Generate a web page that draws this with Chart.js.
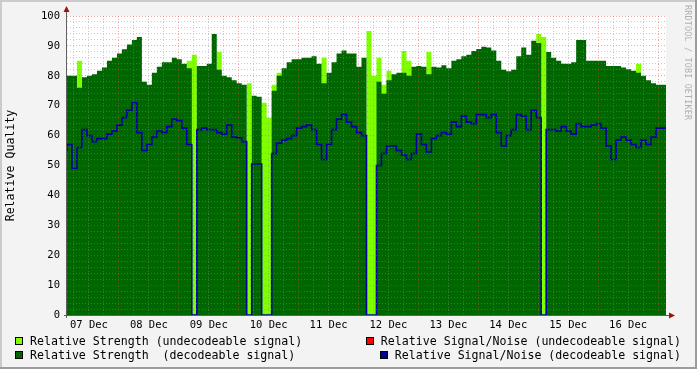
<!DOCTYPE html>
<html>
<head>
<meta charset="utf-8">
<script src="https://cdn.jsdelivr.net/npm/chart.js@4.4.1/dist/chart.umd.min.js"></script>
<style>
  html, body { margin: 0; padding: 0; background: #f3f3f3; }
  #wrap { position: relative; width: 697px; height: 369px; overflow: hidden; }
  #chart { position: absolute; left: 0; top: 0; }
  .item { position: absolute; display: flex; align-items: center; font: 11.6px "DejaVu Sans Mono", monospace; color: #000; white-space: pre; line-height: 14px; }
  .sw { display: inline-block; box-sizing: border-box; width: 8px; height: 8px; border: 1px solid #000; margin-right: 7px; }
  #credit { position: absolute; left: 683px; top: 5px; writing-mode: vertical-rl; font: 8.4px "DejaVu Sans Mono", monospace; color: #b0b0b0; letter-spacing: 0.2px; }
</style>
</head>
<body>
<div id="wrap">
  <canvas id="chart" width="697" height="369"></canvas>
  <div id="credit">RRDTOOL / TOBI OETIKER</div>
  <div class="item" style="left:15px;top:334px"><span class="sw" style="background:#80ff00"></span>Relative Strength (undecodeable signal)</div>
  <div class="item" style="left:15px;top:348px"><span class="sw" style="background:#006600"></span>Relative Strength  (decodeable signal)</div>
  <div class="item" style="right:16px;top:334px"><span class="sw" style="background:#ff0000"></span>Relative Signal/Noise (undecodeable signal)</div>
  <div class="item" style="right:16px;top:348px"><span class="sw" style="background:#000099"></span>Relative Signal/Noise (decodeable signal)</div>
</div>
<script>
"use strict";
// time axis: hours since 07 Dec 00:00, one sample every 2 hours
const startHour = 3.2;
const stepHours = 2;
const dayLabels = ["07 Dec", "08 Dec", "09 Dec", "10 Dec", "11 Dec", "12 Dec", "13 Dec", "14 Dec", "15 Dec", "16 Dec"];
const yTickLabels = [0, 10, 20, 30, 40, 50, 60, 70, 80, 90, 100];

// relative strength while the signal could be decoded
const strengthDecodable = [
  79, 80, 80, 76, 79.5, 80, 80.5, 81.7, 82.8, 85, 86, 87.5, 88.9, 90.5, 92, 93, 78, 77, 81, 83,
  84.5, 84.5, 86, 85.5, 84, 82.5, 0, 83.3, 83.3, 84,
  94, 82, 80, 79.5, 78.5, 77.5, 77, 0, 73.3, 73, 0, 0, 75, 80, 82.5, 84.5, 85.5, 85.5, 86, 86,
  86.5, 84, 77.5, 81, 84.5, 87.5, 88.5, 87.5, 87.5, 83,
  86, 0, 0, 78, 74, 78.5, 80.5, 81, 81, 80, 83, 83.3, 83, 80.5, 83, 82.8, 83.5, 82.5, 85, 85.5,
  86.5, 87, 88.3, 89, 89.7, 89.5, 88.5, 85, 82, 81.5,
  82, 86.5, 89.5, 87, 91.7, 91, 0, 88, 86, 85, 84, 84, 84.5, 92, 92, 85, 85, 85, 85, 83.3,
  83.3, 83.3, 82.8, 82.2, 81.7, 81, 80, 78.5, 77.5, 77
];

// relative strength while the signal could not be decoded
const strengthUndecodable = [
  0, 0, 0, 85, 0, 0, 0, 0, 0, 0, 0, 0, 0, 0, 0, 0, 0, 0, 0, 0,
  0, 0, 0, 0, 0, 85, 87, 0, 0, 0,
  0, 88, 0, 0, 0, 0, 0, 77.5, 0, 0, 71, 66, 77, 81, 0, 0, 0, 0, 0, 0,
  0, 0, 86, 0, 0, 0, 0, 0, 0, 0,
  0, 95, 80, 86, 77, 81.7, 0, 0, 88.3, 85, 0, 0, 0, 88, 0, 0, 0, 0, 0, 0,
  0, 0, 0, 0, 0, 0, 0, 0, 0, 0,
  0, 0, 0, 0, 0, 94, 93, 0, 0, 0, 0, 0, 0, 0, 0, 0, 0, 0, 0, 0,
  0, 0, 0, 0, 0, 84, 0, 0, 0, 0
];

// relative signal/noise while decodable
const snDecodable = [
  55, 57, 49, 56, 62, 60, 58, 59, 59, 60.5, 61.5, 63.5, 66, 68.5, 71, 61, 55, 57, 59.5, 61.5,
  61, 63, 65.5, 65, 62.5, 57, 0, 62, 62.5, 62,
  62, 61, 60.5, 63.5, 59.5, 59.3, 58, 0, 50.5, 50.5, 0, 0, 54, 57.5, 58.5, 59, 60, 62.5, 63, 63.5,
  62, 57, 52, 57, 62, 65.5, 67, 64.5, 63, 61,
  60, 0, 0, 50, 54, 56.5, 56.5, 55, 53.5, 52, 54, 60.5, 57, 54.5, 59, 60, 61, 60.5, 64.5, 63,
  66.5, 64.5, 64, 67, 67, 66, 67, 61, 56.5, 60,
  62, 67, 66.5, 62, 68.5, 66, 0, 62, 62, 61.5, 63, 61.5, 60.5, 64, 63, 63, 63.5, 64, 62.5, 56.5,
  52, 58.5, 59.5, 58.5, 57, 56, 58.5, 57, 59.5, 62.5
];

const spanHours = strengthDecodable.length * stepHours;

const toPoints = (values) => {
  const pts = values.map((v, i) => ({ x: startHour + i * stepHours, y: v }));
  pts.push({ x: startHour + spanHours, y: values[values.length - 1] });
  return pts;
};

const minorGrid = "rgba(140,140,140,0.45)";
const majorGrid = "rgba(230,60,60,0.45)";
const monoFont = "DejaVu Sans Mono";

const rrdFrame = {
  id: "rrdFrame",
  beforeDraw(chart) {
    const { ctx, chartArea: a } = chart;
    ctx.save();
    ctx.fillStyle = "#f3f3f3";
    ctx.fillRect(0, 0, chart.width, chart.height);
    ctx.fillStyle = "#ffffff";
    ctx.fillRect(a.left, a.top, a.right - a.left, a.bottom - a.top);
    ctx.restore();
  },
  afterDraw(chart) {
    const { ctx, chartArea: a } = chart;
    ctx.save();
    // axes
    ctx.strokeStyle = "#606060";
    ctx.lineWidth = 1;
    ctx.beginPath();
    ctx.moveTo(a.left - 0.5, a.top - 4);
    ctx.lineTo(a.left - 0.5, a.bottom + 3);
    ctx.moveTo(a.left - 3, a.bottom + 0.5);
    ctx.lineTo(a.right + 4, a.bottom + 0.5);
    ctx.stroke();
    // arrows
    ctx.fillStyle = "#a01010";
    ctx.beginPath();
    ctx.moveTo(a.left - 3.5, a.top - 4);
    ctx.lineTo(a.left + 2.5, a.top - 4);
    ctx.lineTo(a.left - 0.5, a.top - 10);
    ctx.fill();
    ctx.beginPath();
    ctx.moveTo(a.right + 3, a.bottom - 2.5);
    ctx.lineTo(a.right + 3, a.bottom + 3.5);
    ctx.lineTo(a.right + 9, a.bottom + 0.5);
    ctx.fill();
    // 3d frame
    ctx.fillStyle = "#cbcbcb";
    ctx.fillRect(0, 0, chart.width, 2);
    ctx.fillRect(0, 0, 2, chart.height);
    ctx.fillStyle = "#9c9c9c";
    ctx.fillRect(0, chart.height - 2, chart.width, 2);
    ctx.fillRect(chart.width - 2, 0, 2, chart.height);
    ctx.restore();
  },
};

const ctx = document.getElementById("chart").getContext("2d");
const chart = new Chart(ctx, {
  type: "line",
  data: {
    datasets: [
      {
        label: "Relative Signal/Noise (decodeable signal)",
        data: toPoints(snDecodable),
        borderColor: "#0000a0",
        borderWidth: 1.6,
        stepped: "after",
        fill: false,
        order: 0,
      },
      {
        label: "Relative Strength  (decodeable signal)",
        data: toPoints(strengthDecodable),
        backgroundColor: "#006600",
        borderWidth: 0,
        stepped: "after",
        fill: "origin",
        order: 1,
      },
      {
        label: "Relative Strength (undecodeable signal)",
        data: toPoints(strengthUndecodable),
        backgroundColor: "#80ff00",
        borderWidth: 0,
        stepped: "after",
        fill: "origin",
        order: 2,
      },
    ],
  },
  options: {
    responsive: false,
    animation: false,
    events: [],
    layout: { padding: { top: 16, right: 31, left: 0, bottom: 0 } },
    elements: { point: { radius: 0 }, line: { tension: 0 } },
    plugins: { legend: { display: false }, tooltip: { enabled: false } },
    scales: {
      x: {
        type: "linear",
        min: startHour,
        max: startHour + spanHours,
        afterBuildTicks: (s) => {
          const t = [];
          for (let h = 6; h < startHour + spanHours; h += 6) t.push({ value: h });
          s.ticks = t;
        },
        afterFit: (s) => { s.height = 54; },
        border: { display: false, dash: [1, 2] },
        grid: {
          z: 1,
          drawTicks: false,
          lineWidth: 1,
          color: (c) => (c.tick && c.tick.value % 24 === 0 ? majorGrid : minorGrid),
        },
        ticks: {
          autoSkip: false,
          maxRotation: 0,
          padding: 4,
          color: "#000",
          font: { family: monoFont, size: 10.5 },
          callback: (v) => (v % 24 === 12 ? dayLabels[(v - 12) / 24] : ""),
        },
      },
      y: {
        min: 0,
        max: 100,
        afterBuildTicks: (s) => {
          const t = [];
          for (let v = 0; v <= 100; v += 2) t.push({ value: v });
          s.ticks = t;
        },
        afterFit: (s) => { s.width = 67; },
        border: { display: false, dash: [1, 2] },
        grid: {
          z: 1,
          drawTicks: false,
          lineWidth: 1,
          color: (c) => (c.tick && c.tick.value % 10 === 0 ? majorGrid : minorGrid),
        },
        ticks: {
          autoSkip: false,
          padding: 7,
          color: "#000",
          font: { family: monoFont, size: 10.5 },
          callback: (v) => (yTickLabels.includes(v) ? String(v) : ""),
        },
        title: {
          display: true,
          text: "Relative Quality",
          color: "#000",
          font: { family: monoFont, size: 11.6 },
          padding: { top: 4, bottom: 0 },
        },
      },
    },
  },
  plugins: [rrdFrame],
});
</script>
</body>
</html>
